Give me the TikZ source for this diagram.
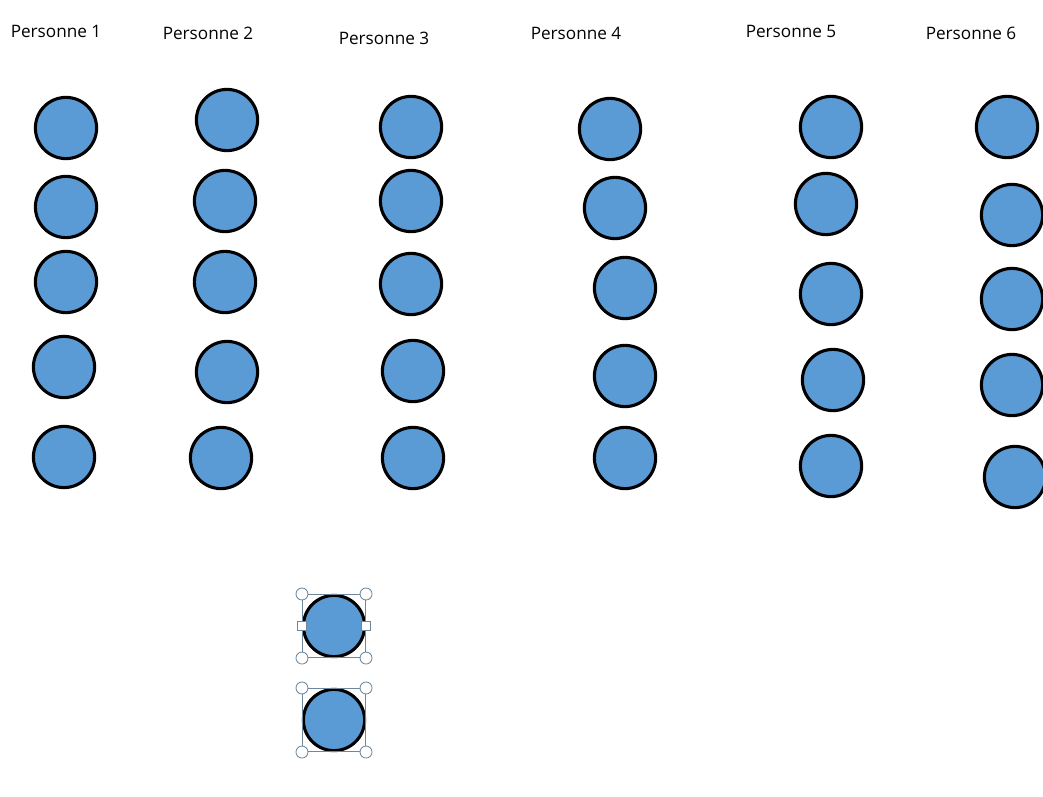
\documentclass[tikz,border=0pt]{standalone}
\usepackage{fontspec}
\setmainfont{Open Sans}
\definecolor{jetonbleu}{RGB}{91, 155, 213}
\definecolor{poigneegris}{RGB}{110, 135, 155}
\usetikzlibrary{positioning}

\begin{document}
\begin{tikzpicture}[
  x=0.025cm, y=-0.025cm,
  jeton/.style={circle, draw=black, fill=jetonbleu, line width=2.2pt, minimum size=1.53cm, inner sep=0pt},
  titre/.style={font=\fontsize{12.2}{14}\selectfont, inner sep=0pt},
  cadre/.style={rectangle, draw=poigneegris, line width=0.6pt, minimum size=1.58cm, inner sep=0pt},
  poignee/.style={circle, draw=poigneegris, fill=white, line width=0.6pt, minimum size=0.3cm, inner sep=0pt},
  carre/.style={rectangle, draw=poigneegris, fill=white, line width=0.6pt, minimum size=0.24cm, inner sep=0pt}
]
  \useasboundingbox (0,0) rectangle (1043,796);

  % titres des colonnes
  \node[titre] (t1) at (56,31) {Personne 1};
  \node[titre] (t2) at (208,33) {Personne 2};
  \node[titre] (t3) at (384,38) {Personne 3};
  \node[titre] (t4) at (576,33) {Personne 4};
  \node[titre] (t5) at (791,31) {Personne 5};
  \node[titre] (t6) at (971,33) {Personne 6};

  % jetons de chaque personne
  \foreach \x/\y [count=\i] in {66/128, 66/207, 66/282, 64/367, 64/457}
    \node[jeton] (a\i) at (\x,\y) {};
  \foreach \x/\y [count=\i] in {227/120, 225/201, 225/282, 227/372, 221/458}
    \node[jeton] (b\i) at (\x,\y) {};
  \foreach \x/\y [count=\i] in {411/127, 411/201, 411/284, 413/371, 413/458}
    \node[jeton] (c\i) at (\x,\y) {};
  \foreach \x/\y [count=\i] in {610/129, 615/208, 625/288, 625/376, 625/458}
    \node[jeton] (d\i) at (\x,\y) {};
  \foreach \x/\y [count=\i] in {831/127, 826/204, 831/294, 833/380, 831/466}
    \node[jeton] (e\i) at (\x,\y) {};
  \foreach \x/\y [count=\i] in {1007/127, 1012/215, 1012/299, 1012/385, 1015/477}
    \node[jeton] (f\i) at (\x,\y) {};

  % jetons restants, selectionnes
  \node[jeton] (g1) at (334,626) {};
  \node[jeton] (g2) at (334,720) {};

  \node[cadre] (s1) at (g1) {};
  \node[cadre] (s2) at (g2) {};
  \foreach \s in {s1, s2}
    \foreach \a in {north west, north east, south west, south east}
      \node[poignee] at (\s.\a) {};
  \node[carre] at (s1.west) {};
  \node[carre] at (s1.east) {};
\end{tikzpicture}
\end{document}
